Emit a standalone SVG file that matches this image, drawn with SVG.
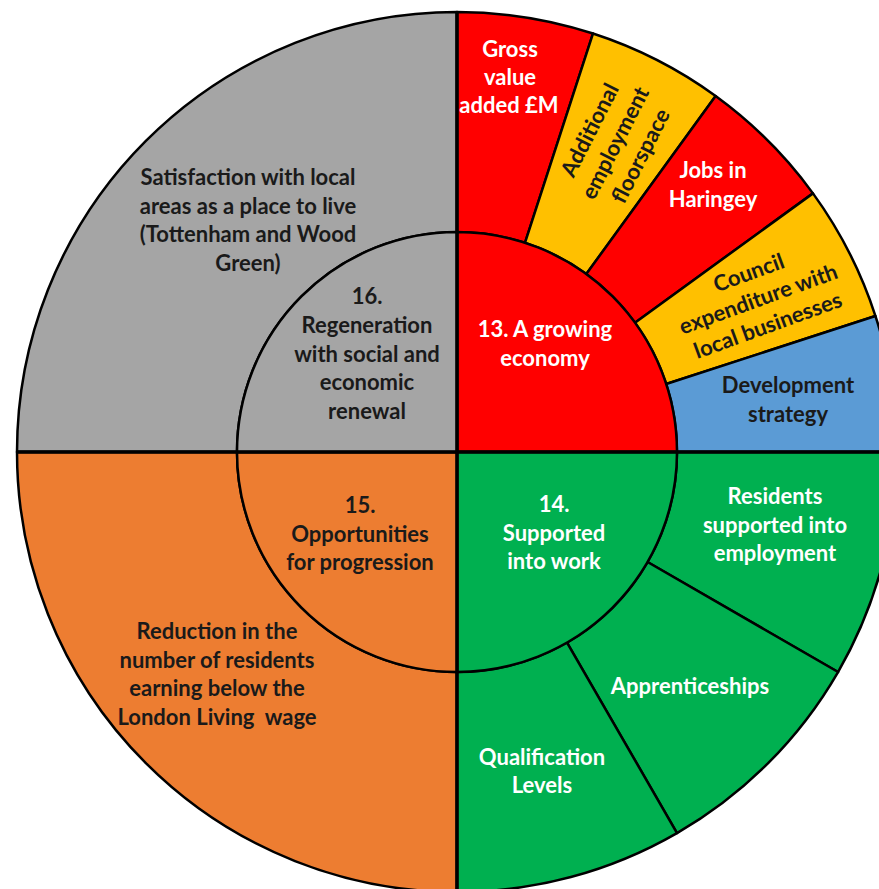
<svg xmlns="http://www.w3.org/2000/svg" width="879" height="889" viewBox="0 0 879 889">
<style>
.seg{stroke:#000;stroke-width:2.5;stroke-linejoin:round}
.red{fill:#FF0000}.yel{fill:#FFC000}.blu{fill:#5B9BD5}.grn{fill:#00B050}.org{fill:#ED7D31}.gry{fill:#A5A5A5}
text{font-family:Lato,"Liberation Sans",Arial,sans-serif;font-weight:bold;font-size:22px;text-anchor:middle}
.w{fill:#FFFFFF}.k{fill:#1A1A1A}
.axis{stroke:#000;stroke-width:3.5}
</style>
<rect x="0" y="0" width="879" height="889" fill="#FFFFFF"/>

<g id="outer-gray">
<path class="seg gry" d="M237,452 L17,452 A440,440 0 0 1 457,12 L457,232 A220,220 0 0 0 237,452 Z"/>
<text class="k"><tspan x="248" y="185">Satisfaction with local</tspan><tspan x="248" y="213.5">areas as a place to live</tspan><tspan x="248" y="242">(Tottenham and Wood</tspan><tspan x="248" y="270.5">Green)</tspan></text>
</g>

<g id="outer-orange">
<path class="seg org" d="M457,672 L457,892 A440,440 0 0 1 17,452 L237,452 A220,220 0 0 0 457,672 Z"/>
<text class="k" xml:space="preserve"><tspan x="217" y="639">Reduction in the</tspan><tspan x="217" y="667.5">number of residents</tspan><tspan x="217" y="696">earning below the</tspan><tspan x="217" y="724.5">London Living  wage</tspan></text>
</g>

<g id="gross-value">
<path class="seg red" d="M457,232 L457,12 A440,440 0 0 1 592.97,33.54 L524.98,242.77 A220,220 0 0 0 457,232 Z"/>
<text class="w"><tspan x="510" y="57">Gross</tspan><tspan x="510" y="85">value</tspan><tspan x="509" y="113">added £M</tspan></text>
</g>

<g id="additional-floorspace">
<path class="seg yel" d="M524.98,242.77 L592.97,33.54 A440,440 0 0 1 715.63,96.03 L586.31,274.02 A220,220 0 0 0 524.98,242.77 Z"/>
<text class="k" transform="translate(617,144) rotate(-63)"><tspan x="0" y="-23">Additional</tspan><tspan x="0" y="5.5">employment</tspan><tspan x="0" y="34">floorspace</tspan></text>
</g>

<g id="jobs-haringey">
<path class="seg red" d="M586.31,274.02 L715.63,96.03 A440,440 0 0 1 812.97,193.37 L634.98,322.69 A220,220 0 0 0 586.31,274.02 Z"/>
<text class="w"><tspan x="713" y="178">Jobs in</tspan><tspan x="713" y="207">Haringey</tspan></text>
</g>

<g id="council-expenditure">
<path class="seg yel" d="M634.98,322.69 L812.97,193.37 A440,440 0 0 1 875.46,316.03 L666.23,384.02 A220,220 0 0 0 634.98,322.69 Z"/>
<text class="k" transform="translate(759,301) rotate(-20)"><tspan x="0" y="-22.5">Council</tspan><tspan x="0" y="5.5">expenditure with</tspan><tspan x="0" y="33.5">local businesses</tspan></text>
</g>

<g id="development-strategy">
<path class="seg blu" d="M666.23,384.02 L875.46,316.03 A440,440 0 0 1 897,452 L677,452 A220,220 0 0 0 666.23,384.02 Z"/>
<text class="k"><tspan x="788" y="393">Development</tspan><tspan x="788" y="421.5">strategy</tspan></text>
</g>

<g id="residents-employment">
<path class="seg grn" d="M677,452 L897,452 A440,440 0 0 1 838.05,672 L647.53,562 A220,220 0 0 0 677,452 Z"/>
<text class="w"><tspan x="775" y="504">Residents</tspan><tspan x="775" y="532.5">supported into</tspan><tspan x="775" y="561">employment</tspan></text>
</g>

<g id="apprenticeships">
<path class="seg grn" d="M647.53,562 L838.05,672 A440,440 0 0 1 677,833.05 L567,642.53 A220,220 0 0 0 647.53,562 Z"/>
<text class="w" x="690" y="694">Apprenticeships</text>
</g>

<g id="qualification-levels">
<path class="seg grn" d="M567,642.53 L677,833.05 A440,440 0 0 1 457,892 L457,672 A220,220 0 0 0 567,642.53 Z"/>
<text class="w"><tspan x="542" y="765">Qualification</tspan><tspan x="542" y="793">Levels</tspan></text>
</g>

<g id="node-13">
<path class="seg red" d="M457,452 L457,232 A220,220 0 0 1 677,452 Z"/>
<text class="w"><tspan x="545" y="337">13. A growing</tspan><tspan x="545" y="366">economy</tspan></text>
</g>

<g id="node-14">
<path class="seg grn" d="M457,452 L677,452 A220,220 0 0 1 457,672 Z"/>
<text class="w"><tspan x="554" y="512">14.</tspan><tspan x="554" y="541">Supported</tspan><tspan x="554" y="569">into work</tspan></text>
</g>

<g id="node-15">
<path class="seg org" d="M457,452 L457,672 A220,220 0 0 1 237,452 Z"/>
<text class="k"><tspan x="360" y="513">15.</tspan><tspan x="360" y="542">Opportunities</tspan><tspan x="360" y="570">for progression</tspan></text>
</g>

<g id="node-16">
<path class="seg gry" d="M457,452 L237,452 A220,220 0 0 1 457,232 Z"/>
<text class="k"><tspan x="367" y="304">16.</tspan><tspan x="367" y="333">Regeneration</tspan><tspan x="367" y="361.5">with social and</tspan><tspan x="367" y="390">economic</tspan><tspan x="367" y="418.5">renewal</tspan></text>
</g>

<g id="axes">
<line class="axis" x1="457" y1="12" x2="457" y2="892"/>
<line class="axis" x1="17" y1="452" x2="897" y2="452"/>
</g>
</svg>
